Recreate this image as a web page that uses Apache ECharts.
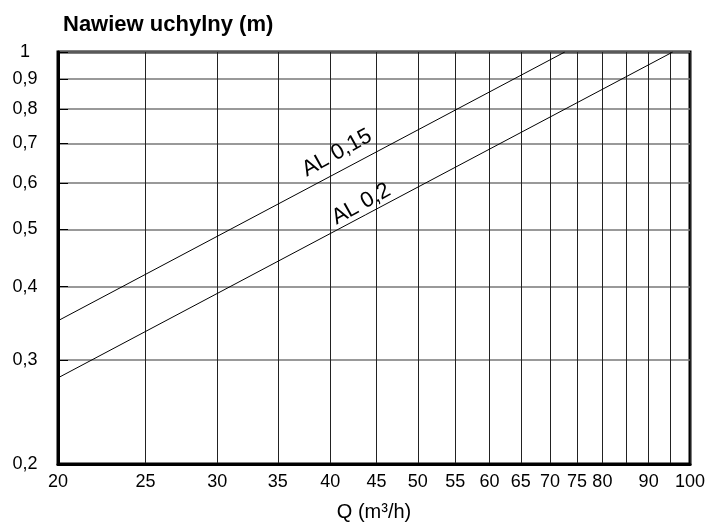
<!DOCTYPE html>
<html>
<head>
<meta charset="utf-8">
<title>Nawiew uchylny</title>
<script src="https://cdn.jsdelivr.net/npm/echarts@6/dist/echarts.min.js"></script>
<style>
  html, body { margin: 0; padding: 0; background: #fff; }
  #chart { width: 708px; height: 524px; }
</style>
</head>
<body>
<div id="chart"></div>
<script>
// x: Q (m3/h), y: throw (m); both log scale
const xTicks = [20, 25, 30, 35, 40, 45, 50, 55, 60, 65, 70, 75, 80, 85, 90, 95, 100]
const xLabels = [20, 25, 30, 35, 40, 45, 50, 55, 60, 65, 70, 75, 80, 90, 100]
const yTicks = [0.2, 0.3, 0.4, 0.5, 0.6, 0.7, 0.8, 0.9, 1]

const al015 = [[20, 0.35], [72.7, 1]]
const al02 = [[20, 0.28], [95.7, 1]]

// where the curve names sit (data coords)
const al015Label = [40.7, 0.674]
const al02Label = [43.3, 0.552]

const font = 'Liberation Sans, Arial, sans-serif'
const fmt = (v) => String(Math.round(v * 100) / 100).replace('.', ',')

const chart = echarts.init(document.getElementById('chart'))

const labelPoint = (coord, text) => ({
  symbol: 'circle',
  symbolSize: 1,
  itemStyle: { color: 'rgba(0,0,0,0)' },
  data: [{
    coord: coord,
    label: {
      show: true,
      formatter: text,
      position: 'inside',
      rotate: 29,
      color: '#000',
      fontSize: 22,
      fontFamily: font
    }
  }]
})

chart.setOption({
  animation: false,
  title: {
    text: 'Nawiew uchylny (m)',
    left: 58,
    top: 9,
    textStyle: { fontSize: 22, fontWeight: 'bold', color: '#000', fontFamily: font }
  },
  grid: {
    left: 58,
    right: 18,
    top: 52,
    bottom: 60,
    outerBoundsMode: 'none',
    show: true,
    borderColor: '#000',
    borderWidth: 3
  },
  xAxis: {
    type: 'log',
    logBase: 10,
    min: 20,
    max: 100,
    name: 'Q (m³/h)',
    nameLocation: 'middle',
    nameGap: 38,
    nameTextStyle: { fontSize: 20, color: '#000', fontFamily: font },
    axisLine: { show: true, lineStyle: { color: '#000', width: 3 } },
    axisTick: { show: false, customValues: xTicks },
    axisLabel: {
      customValues: xLabels,
      margin: 9,
      fontSize: 18,
      color: '#000',
      fontFamily: font,
      formatter: fmt
    },
    splitLine: { show: true, lineStyle: { color: '#222', width: 1 } },
    minorTick: { show: false },
    minorSplitLine: { show: false }
  },
  yAxis: {
    type: 'log',
    logBase: 10,
    min: 0.2,
    max: 1,
    axisLine: { show: true, lineStyle: { color: '#000', width: 3 } },
    axisTick: {
      show: true,
      inside: true,
      length: 10,
      customValues: yTicks,
      lineStyle: { color: '#000', width: 1 }
    },
    axisLabel: {
      customValues: yTicks,
      margin: 33,
      align: 'center',
      fontSize: 18,
      color: '#000',
      fontFamily: font,
      formatter: fmt
    },
    splitLine: { show: true, lineStyle: { color: '#777', width: 1.5 } }
  },
  series: [
    {
      name: 'AL 0,15',
      type: 'line',
      data: al015,
      symbol: 'none',
      clip: true,
      lineStyle: { color: '#000', width: 1 },
      markPoint: labelPoint(al015Label, 'AL 0,15')
    },
    {
      name: 'AL 0,2',
      type: 'line',
      data: al02,
      symbol: 'none',
      clip: true,
      lineStyle: { color: '#000', width: 1 },
      markPoint: labelPoint(al02Label, 'AL 0,2')
    }
  ]
})
</script>
</body>
</html>
